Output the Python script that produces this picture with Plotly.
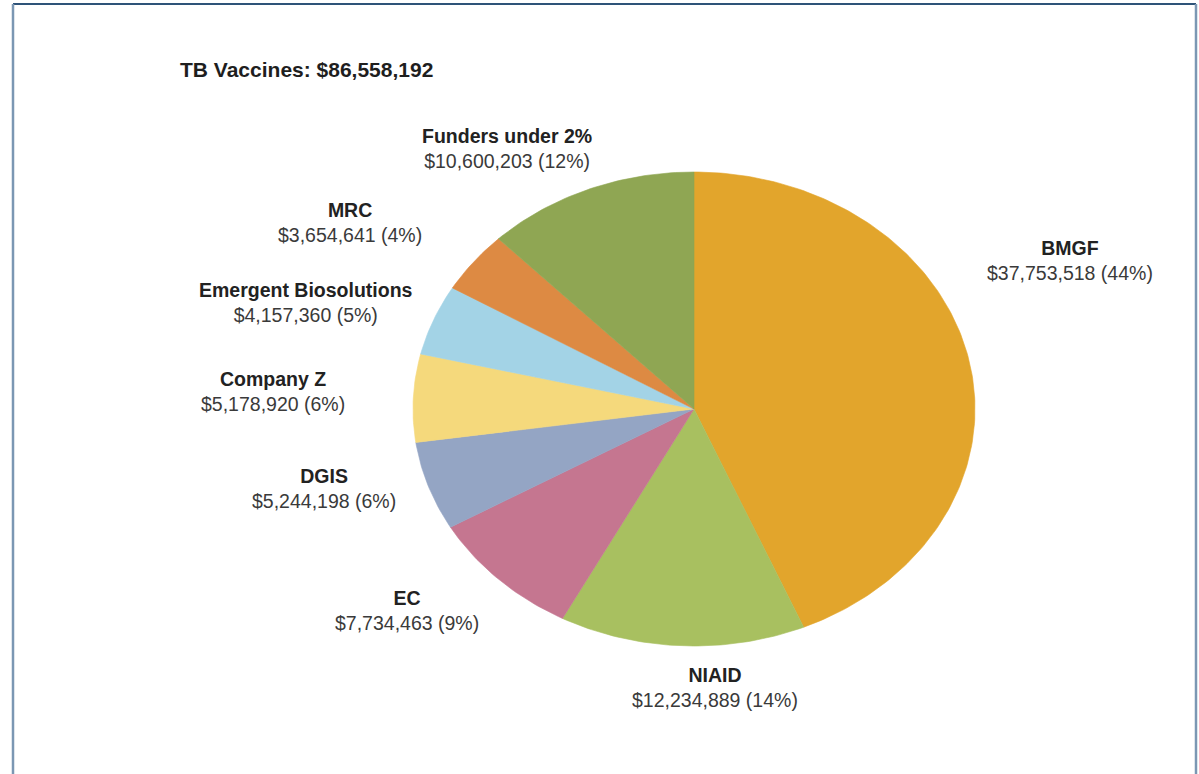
import numpy as np
import plotly.graph_objects as go

# ---- data ----
title_text = "TB Vaccines: $86,558,192"
funders = ["BMGF", "NIAID", "EC", "DGIS", "Company Z",
           "Emergent Biosolutions", "MRC", "Funders under 2%"]
amounts = [37753518, 12234889, 7734463, 5244198, 5178920,
           4157360, 3654641, 10600203]
colors = ["#E2A52C", "#A8C060", "#C57690", "#94A5C4", "#F5D97C",
          "#A3D3E6", "#DD8A43", "#8FA653"]

# ---- layout constants (pixels) ----
W, H = 1199, 774
CX, CY = 694, 409       # pie centre
RX, RY = 281, 237       # ellipse radii
# label centres (pixel positions)
label_pos = [(1070, 260), (715, 687), (407, 610), (324, 488),
             (273, 391), (306, 302), (350, 222), (507, 148)]
FONT = "Liberation Sans, Arial, sans-serif"

total = sum(amounts)
fig = go.Figure()

start = 0.0
for name, val, col in zip(funders, amounts, colors):
    frac = val / total
    a0, a1 = start, start + frac
    n = max(4, int(frac * 400))
    t = np.linspace(a0, a1, n) * 2 * np.pi
    # clockwise from 12 o'clock
    xs = np.concatenate([[0], np.sin(t), [0]])
    ys = np.concatenate([[0], np.cos(t), [0]])
    fig.add_trace(go.Scatter(
        x=xs, y=ys, mode="lines", fill="toself", fillcolor=col,
        line=dict(color=col, width=0.6), name=name,
        hoverinfo="text", text=f"{name}: ${val:,}", showlegend=False))
    start = a1

annotations = []
for name, val, (px, py) in zip(funders, amounts, label_pos):
    pct = round(100 * val / total)
    annotations.append(dict(
        x=px / W, y=1 - py / H, xref="paper", yref="paper",
        xanchor="center", yanchor="middle", showarrow=False, align="center",
        text=f"<b>{name}</b><br><span style='color:#3a3a3a'>${val:,} ({pct}%)</span>",
        font=dict(family=FONT, size=19.5, color="#222222")))

annotations.append(dict(
    x=178 / W, y=1 - 70 / H, xref="paper", yref="paper",
    xanchor="left", yanchor="middle", showarrow=False,
    text=f"<b>{title_text}</b>",
    font=dict(family=FONT, size=21, color="#1e1e1e")))

shapes = [
    dict(type="line", xref="paper", yref="paper", x0=13 / W, x1=1196 / W,
         y0=1 - 4 / H, y1=1 - 4 / H, line=dict(color="#2E5378", width=2)),
    dict(type="line", xref="paper", yref="paper", x0=13 / W, x1=13 / W,
         y0=0, y1=1 - 4 / H, line=dict(color="#7B97B3", width=2.5)),
    dict(type="line", xref="paper", yref="paper", x0=1196 / W, x1=1196 / W,
         y0=0, y1=1 - 4 / H, line=dict(color="#7B97B3", width=2.5)),
]

fig.update_layout(
    width=W, height=H,
    margin=dict(l=0, r=0, t=0, b=0),
    paper_bgcolor="white", plot_bgcolor="white",
    xaxis=dict(range=[-CX / RX, (W - CX) / RX], visible=False, fixedrange=True),
    yaxis=dict(range=[-(H - CY) / RY, CY / RY], visible=False, fixedrange=True),
    annotations=annotations, shapes=shapes,
    showlegend=False,
)

fig.write_html("out.html")
